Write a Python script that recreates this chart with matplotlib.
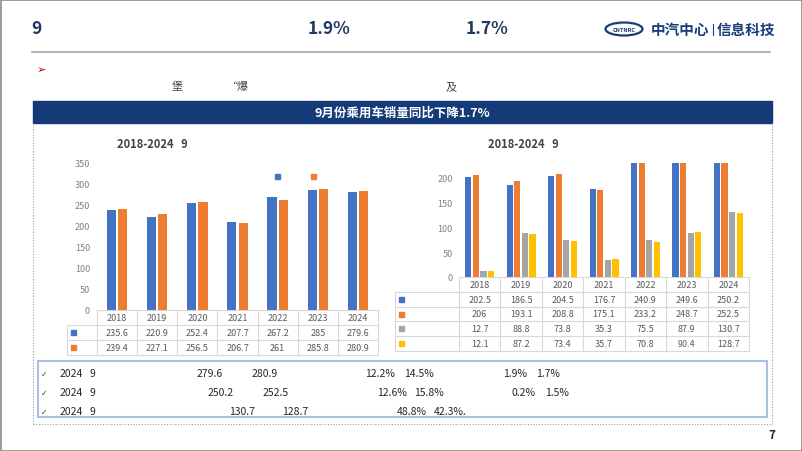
import numpy as np
import matplotlib.pyplot as plt
from matplotlib.patches import Rectangle, Ellipse

plt.rcParams['font.family'] = ['Noto Sans CJK SC', 'DejaVu Sans']

# data
years = ['2018', '2019', '2020', '2021', '2022', '2023', '2024']
total_prod = [235.6, 220.9, 252.4, 207.7, 267.2, 285, 279.6]
total_sales = [239.4, 227.1, 256.5, 206.7, 261, 285.8, 280.9]
pv_prod = [202.5, 186.5, 204.5, 176.7, 240.9, 249.6, 250.2]
pv_sales = [206, 193.1, 208.8, 175.1, 233.2, 248.7, 252.5]
nev_prod = [12.7, 88.8, 73.8, 35.3, 75.5, 87.9, 130.7]
nev_sales = [12.1, 87.2, 73.4, 35.7, 70.8, 90.4, 128.7]

summary_rows = [
    ['279.6', '280.9', '12.2%', '14.5%', '1.9%', '1.7%'],
    ['250.2', '252.5', '12.6%', '15.8%', '0.2%', '1.5%'],
    ['130.7', '128.7', '48.8%', '42.3%.'],
]
summary_x = [
    [197, 252, 365, 404, 503, 536],
    [208, 263, 377, 414, 512, 545],
    [229, 282, 397, 434],
]

BLUE, ORANGE, GRAY, YELLOW = '#4472C4', '#ED7D31', '#A5A5A5', '#FFC000'
NAVY = '#1F3864'
GRID = '#D9D9D9'
TXT = '#595959'

W, H = 802, 452
fig = plt.figure(figsize=(W / 100, H / 100), dpi=100)
ov = fig.add_axes([0, 0, 1, 1])
ov.set_xlim(0, W)
ov.set_ylim(H, 0)
ov.axis('off')


def px_axes(x0, x1, y0, y1):
    ax = fig.add_axes([x0 / W, 1 - y1 / H, (x1 - x0) / W, (y1 - y0) / H])
    ax.patch.set_alpha(0)
    for s in ax.spines.values():
        s.set_visible(False)
    ax.set_xticks([])
    ax.tick_params(axis='y', length=0, labelsize=6.5, labelcolor='#808080')
    return ax


def table(x0, x1, lab_x0, top, rh, series, colors):
    n = len(years)
    cw = (x1 - x0) / n
    bottom = top + rh * (len(series) + 1)
    ov.plot([x0, x1], [top, top], color=GRID, lw=0.8)
    for r in range(1, len(series) + 2):
        y = top + rh * r
        ov.plot([lab_x0, x1], [y, y], color=GRID, lw=0.8)
    ov.plot([lab_x0, lab_x0], [top + rh, bottom], color=GRID, lw=0.8)
    for c in range(n + 1):
        ov.plot([x0 + c * cw] * 2, [top, bottom], color=GRID, lw=0.8)
    for c, yr in enumerate(years):
        ov.text(x0 + (c + 0.5) * cw, top + rh / 2, yr, ha='center', va='center',
                fontsize=6.5, color=TXT)
    for r, (vals, col) in enumerate(zip(series, colors)):
        yc = top + rh * (r + 1.5)
        ov.add_patch(Rectangle((lab_x0 + 4, yc - 2.5), 5, 5, color=col))
        for c, v in enumerate(vals):
            ov.text(x0 + (c + 0.5) * cw, yc, f'{v:g}', ha='center', va='center',
                    fontsize=6.5, color=TXT)


# page frame and header
ov.add_patch(Rectangle((0.5, 0.5), W - 1, H - 1, fill=False, ec='#8C8C8C', lw=1.2))
ov.text(31, 29, '9', fontsize=12.5, fontweight='bold', color=NAVY, va='center')
ov.text(308, 29, '1.9%', fontsize=12.5, fontweight='bold', color=NAVY, va='center')
ov.text(466, 29, '1.7%', fontsize=12.5, fontweight='bold', color=NAVY, va='center')
ov.add_patch(Ellipse((624, 30), 37, 13, fill=False, ec='#1A3D7C', lw=1.6))
ov.text(624, 30.5, 'CNTNRC', fontsize=4, color='#1A3D7C', ha='center', va='center',
        fontweight='bold')
ov.text(651, 30, '中汽中心', fontsize=10.5, color='#1A3D7C', va='center', fontweight='bold')
ov.plot([712.5, 712.5], [25, 36], color='#1A3D7C', lw=0.8)
ov.text(717, 30, '信息科技', fontsize=10.5, color='#1A3D7C', va='center', fontweight='bold')
ov.plot([32, 770], [53, 53], color='#A6A6A6', lw=1.2)
ov.text(37, 70, '➢', fontsize=8, color='#C00000', va='center', family='DejaVu Sans')
ov.text(172, 87, '堡', fontsize=8, color='#404040', va='center')
ov.text(226, 87, '“爆', fontsize=8, color='#404040', va='center')
ov.text(446, 87, '及', fontsize=8, color='#404040', va='center')

# banner and dotted frame
ov.add_patch(Rectangle((33, 102), 739, 22, color='#143A78'))
ov.text(402, 113, '9月份乘用车销量同比下降1.7%', fontsize=9, fontweight='bold',
        color='white', ha='center', va='center')
dot = dict(color='#A0A0A0', lw=0.8, ls=(0, (1, 1.5)))
ov.plot([33, 33], [124, 425], **dot)
ov.plot([33, 772], [425, 425], **dot)
ov.plot([772, 772], [124, 425], **dot)

# left chart: total production / sales
ax1 = px_axes(97, 378, 163.3, 310.5)
x = np.arange(len(years))
ax1.bar(x - 0.14, total_prod, 0.23, color=BLUE)
ax1.bar(x + 0.14, total_sales, 0.23, color=ORANGE)
ax1.set_xlim(-0.5, len(years) - 0.5)
ax1.set_ylim(0, 350)
ax1.set_yticks(np.arange(0, 351, 50))
ax1.tick_params(axis='y', pad=5)
ov.text(117, 145, '2018-2024   9', fontsize=8, fontweight='bold', color='#404040', va='center')
ov.add_patch(Rectangle((274.5, 174.5), 5, 5, color=BLUE))
ov.add_patch(Rectangle((310.5, 174.5), 5, 5, color=ORANGE))
table(97, 378, 67, 311, 15, [total_prod, total_sales], [BLUE, ORANGE])

# right chart: passenger vehicles and NEV
ax2 = px_axes(459, 749, 164, 278)
offs = [-0.275, -0.092, 0.092, 0.275]
for o, vals, col in zip(offs, [pv_prod, pv_sales, nev_prod, nev_sales],
                        [BLUE, ORANGE, GRAY, YELLOW]):
    ax2.bar(x + o, vals, 0.15, color=col)
ax2.set_xlim(-0.5, len(years) - 0.5)
ax2.set_ylim(0, 230)
ax2.set_yticks(np.arange(0, 201, 50))
ax2.tick_params(axis='y', pad=4.5)
ov.text(488, 145, '2018-2024   9', fontsize=8, fontweight='bold', color='#404040', va='center')
table(459, 749, 395, 278, 14.8, [pv_prod, pv_sales, nev_prod, nev_sales],
      [BLUE, ORANGE, GRAY, YELLOW])

# summary box
ov.add_patch(Rectangle((38, 362), 729, 56, fill=False, ec='#A9BFE3', lw=1.5))
for r, (vals, xs) in enumerate(zip(summary_rows, summary_x)):
    y = 374 + r * 19
    ov.text(41, y, '✓', fontsize=5.5, color='#404040', va='center', family='DejaVu Sans')
    ov.text(60, y, '2024', fontsize=7.5, color='#262626', va='center')
    ov.text(90, y, '9', fontsize=7.5, color='#262626', va='center')
    for v, xx in zip(vals, xs):
        ov.text(xx, y, v, fontsize=7.5, color='#262626', va='center')

ov.text(768, 436, '7', fontsize=8.5, fontweight='bold', color='#262626', va='center')

fig.savefig('out.png', dpi=100)
